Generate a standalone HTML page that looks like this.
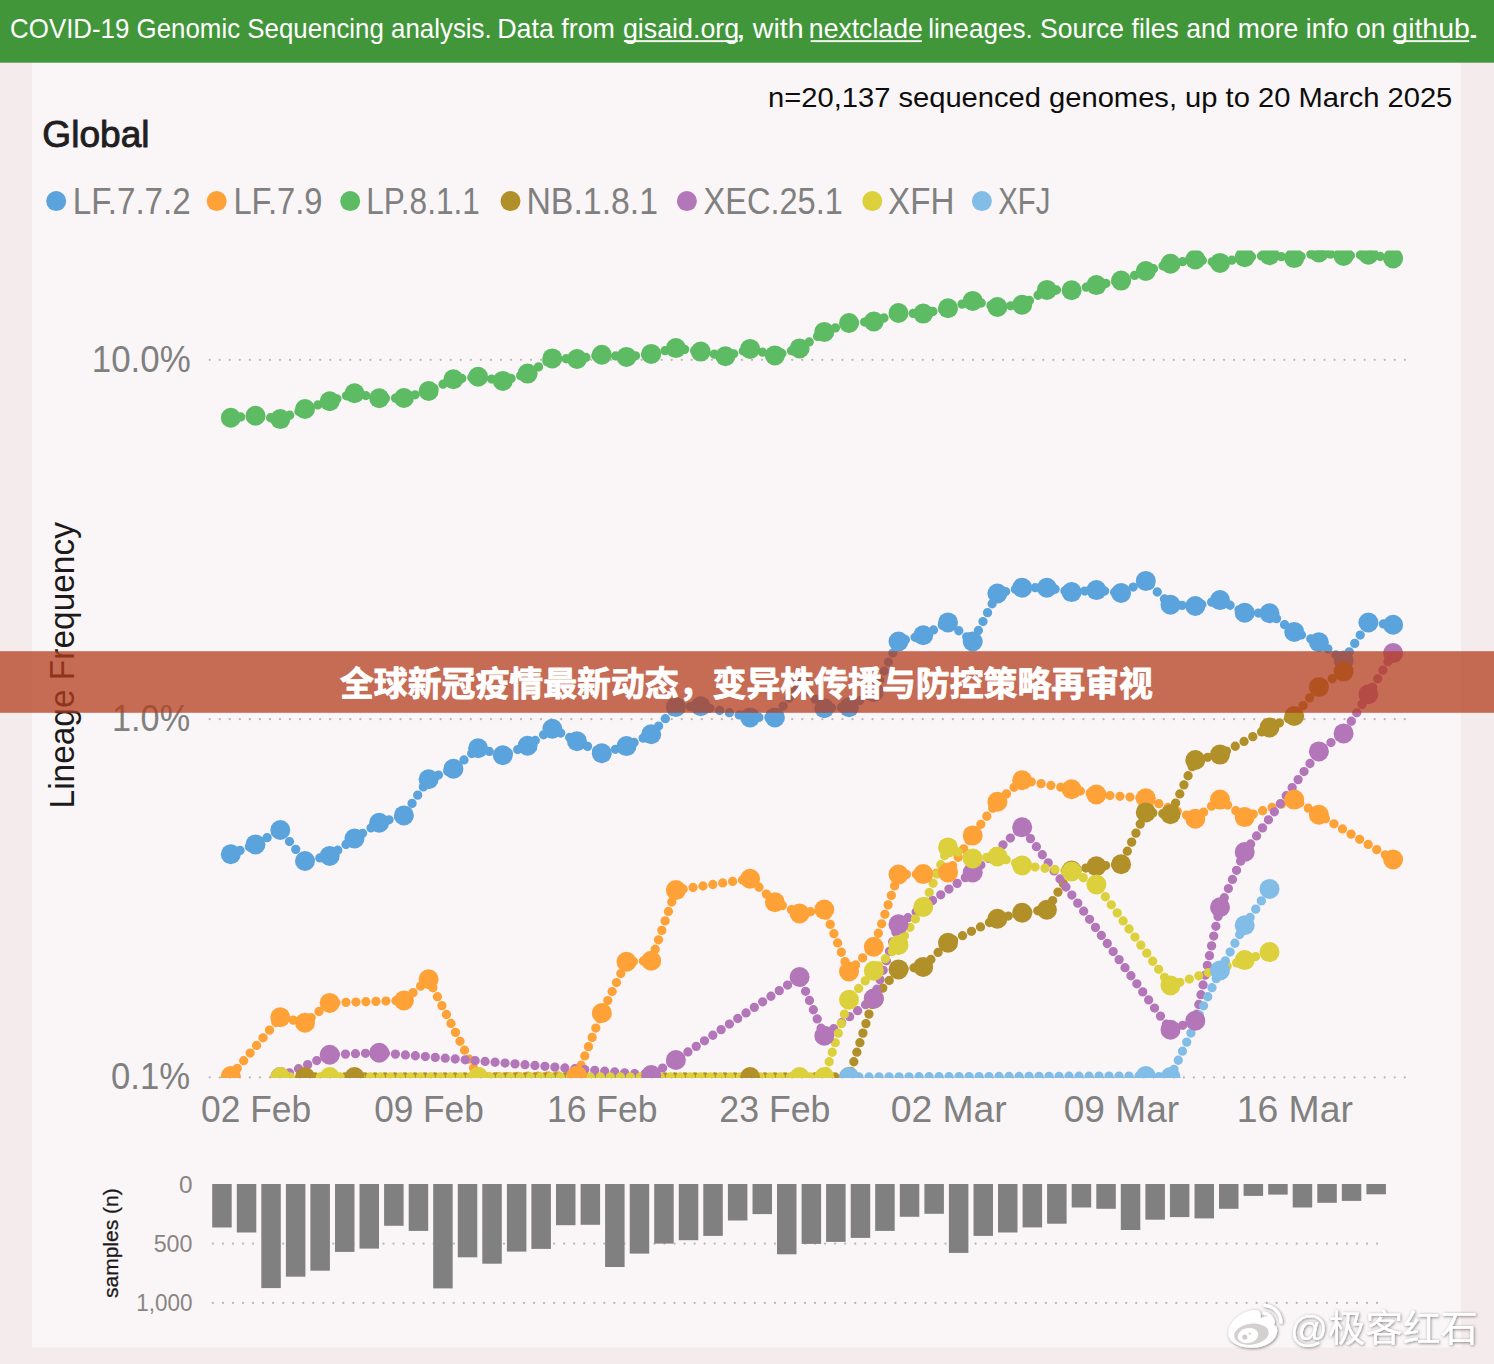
<!DOCTYPE html>
<html lang="en"><head><meta charset="utf-8"><title>COVID-19 Genomic Sequencing analysis</title>
<style>html,body{margin:0;padding:0;background:#f4ebec;}body{width:1494px;height:1364px;overflow:hidden;font-family:"Liberation Sans",sans-serif;}svg{display:block;}text{font-family:"Liberation Sans",sans-serif;}</style></head><body>
<svg width="1494" height="1364" viewBox="0 0 1494 1364">
<defs><clipPath id="plot"><rect x="190" y="250.5" width="1230" height="827.5"/></clipPath>
<filter id="wm" x="-10%" y="-30%" width="120%" height="160%"><feDropShadow dx="0.8" dy="0.8" stdDeviation="1.8" flood-color="#000" flood-opacity="0.5"/></filter>
</defs>
<rect x="32" y="62" width="1429" height="1285.6" fill="#faf6f7"/>
<rect x="0" y="0" width="1494" height="62.7" fill="#419639"/>
<text x="10.09" y="38.0" font-size="28.5" fill="#fff" textLength="481.65" lengthAdjust="spacingAndGlyphs">COVID-19 Genomic Sequencing analysis.</text>
<text x="497.22" y="38.0" font-size="28.5" fill="#fff" textLength="117.74" lengthAdjust="spacingAndGlyphs">Data from</text>
<text x="622.96" y="38.0" font-size="28.5" fill="#fff" textLength="116.22" lengthAdjust="spacingAndGlyphs">gisaid.org</text>
<rect x="623.9" y="40.2" width="113.8" height="1.9" fill="#fff"/>
<text x="735.6" y="38.0" font-size="28.5" fill="#fff" textLength="10.56" lengthAdjust="spacingAndGlyphs">,</text>
<text x="752.8" y="38.0" font-size="28.5" fill="#fff" textLength="50.89" lengthAdjust="spacingAndGlyphs">with</text>
<text x="808.83" y="38.0" font-size="28.5" fill="#fff" textLength="113.92" lengthAdjust="spacingAndGlyphs">nextclade</text>
<rect x="810.7" y="40.2" width="111.1" height="1.9" fill="#fff"/>
<text x="928.27" y="38.0" font-size="28.5" fill="#fff" textLength="104.45" lengthAdjust="spacingAndGlyphs">lineages.</text>
<text x="1039.97" y="38.0" font-size="28.5" fill="#fff" textLength="345.53" lengthAdjust="spacingAndGlyphs">Source files and more info on</text>
<text x="1392.3" y="38.0" font-size="28.5" fill="#fff" textLength="77.55" lengthAdjust="spacingAndGlyphs">github</text>
<rect x="1393.3" y="40.2" width="75.9" height="1.9" fill="#fff"/>
<text x="1466.05" y="38.0" font-size="28.5" fill="#fff" textLength="14.66" lengthAdjust="spacingAndGlyphs">.</text>
<text x="768.06" y="106.9" font-size="28.5" fill="#0d0d0d" textLength="684.25" lengthAdjust="spacingAndGlyphs">n=20,137 sequenced genomes, up to 20 March 2025</text>
<text x="42.39" y="146.9" font-size="36.6" fill="#221e1f" textLength="107.17" lengthAdjust="spacingAndGlyphs" stroke="#221e1f" stroke-width="0.9">Global</text>
<text x="72.7" y="214.4" font-size="36.8" fill="#808080" textLength="118.05" lengthAdjust="spacingAndGlyphs">LF.7.7.2</text>
<text x="233.43" y="214.4" font-size="36.8" fill="#808080" textLength="89.08" lengthAdjust="spacingAndGlyphs">LF.7.9</text>
<text x="366.33" y="214.4" font-size="36.8" fill="#808080" textLength="113.42" lengthAdjust="spacingAndGlyphs">LP.8.1.1</text>
<text x="526.44" y="214.4" font-size="36.8" fill="#808080" textLength="131.65" lengthAdjust="spacingAndGlyphs">NB.1.8.1</text>
<text x="703.52" y="214.4" font-size="36.8" fill="#808080" textLength="139.33" lengthAdjust="spacingAndGlyphs">XEC.25.1</text>
<text x="888.1" y="214.4" font-size="36.8" fill="#808080" textLength="66.25" lengthAdjust="spacingAndGlyphs">XFH</text>
<text x="998.2" y="214.4" font-size="36.8" fill="#808080" textLength="52.13" lengthAdjust="spacingAndGlyphs">XFJ</text>
<text x="91.82" y="371.6" font-size="36.4" fill="#808080" textLength="98.91" lengthAdjust="spacingAndGlyphs">10.0%</text>
<text x="112.08" y="730.7" font-size="36.4" fill="#808080" textLength="78.02" lengthAdjust="spacingAndGlyphs">1.0%</text>
<text x="111.05" y="1089.3" font-size="36.4" fill="#808080" textLength="79.06" lengthAdjust="spacingAndGlyphs">0.1%</text>
<text x="201.03" y="1121.7" font-size="36.4" fill="#808080" textLength="110.13" lengthAdjust="spacingAndGlyphs">02 Feb</text>
<text x="374.13" y="1121.7" font-size="36.4" fill="#808080" textLength="109.62" lengthAdjust="spacingAndGlyphs">09 Feb</text>
<text x="547.08" y="1121.7" font-size="36.4" fill="#808080" textLength="110.28" lengthAdjust="spacingAndGlyphs">16 Feb</text>
<text x="719.34" y="1121.7" font-size="36.4" fill="#808080" textLength="111.13" lengthAdjust="spacingAndGlyphs">23 Feb</text>
<text x="890.68" y="1121.7" font-size="36.4" fill="#808080" textLength="116.1" lengthAdjust="spacingAndGlyphs">02 Mar</text>
<text x="1063.68" y="1121.7" font-size="36.4" fill="#808080" textLength="115.49" lengthAdjust="spacingAndGlyphs">09 Mar</text>
<text x="1236.72" y="1121.7" font-size="36.4" fill="#808080" textLength="116.15" lengthAdjust="spacingAndGlyphs">16 Mar</text>
<text x="178.99" y="1192.6" font-size="24.2" fill="#8a8584" textLength="13.57" lengthAdjust="spacingAndGlyphs">0</text>
<text x="153.64" y="1251.8" font-size="24.2" fill="#8a8584" textLength="38.81" lengthAdjust="spacingAndGlyphs">500</text>
<text x="136.34" y="1310.5" font-size="24.2" fill="#8a8584" textLength="56.25" lengthAdjust="spacingAndGlyphs">1,000</text>
<text transform="translate(73.6,805.6) rotate(-90)" x="-2.87" y="0" font-size="35.0" fill="#1c1a1a" textLength="286.34" lengthAdjust="spacingAndGlyphs">Lineage Frequency</text>
<text transform="translate(117.9,1297.0) rotate(-90)" x="-1.0" y="0" font-size="21.0" fill="#1c1a1a" textLength="109.7" lengthAdjust="spacingAndGlyphs" stroke="#1c1a1a" stroke-width="0.3">samples (n)</text>
<circle cx="56.2" cy="201.1" r="10" fill="#5ba3dc"/>
<circle cx="216.7" cy="201.1" r="10" fill="#fea238"/>
<circle cx="350.2" cy="201.1" r="10" fill="#5dbb63"/>
<circle cx="510.5" cy="201.1" r="10" fill="#b1902a"/>
<circle cx="686.9" cy="201.1" r="10" fill="#b376b9"/>
<circle cx="872.3" cy="201.1" r="10" fill="#dcd03c"/>
<circle cx="981.9" cy="201.1" r="10" fill="#82bde8"/>
<line x1="209.7" y1="359.8" x2="1405.5" y2="359.8" stroke="#bcb7b7" stroke-width="2.3" stroke-linecap="round" stroke-dasharray="0 10.043"/>
<line x1="209.7" y1="719.2" x2="1405.5" y2="719.2" stroke="#bcb7b7" stroke-width="2.3" stroke-linecap="round" stroke-dasharray="0 10.043"/>
<line x1="209.7" y1="1077.4" x2="1405.5" y2="1077.4" stroke="#bcb7b7" stroke-width="2.3" stroke-linecap="round" stroke-dasharray="0 10.043"/>
<g clip-path="url(#plot)">
<g fill="none" stroke-width="9.3" stroke-linecap="round" stroke-linejoin="round" stroke-dasharray="0 10">
<polyline points="230.8,854.2 255.5,844.4 280.3,830.0 305.0,861.0 329.7,855.9 354.5,838.5 379.2,822.7 403.9,815.4 428.6,779.2 453.4,768.8 478.1,748.2 502.8,755.3 527.6,745.7 552.3,728.8 577.0,741.2 601.8,753.3 626.5,746.1 651.2,734.3 675.9,707.0 700.7,706.2 750.1,717.4 774.9,717.4 799.6,683.5 824.3,708.2 849.0,707.2 873.8,692.0 898.5,641.5 923.2,635.3 948.0,622.4 972.7,641.5 997.4,593.5 1022.2,587.7 1046.9,587.7 1071.6,592.1 1096.4,590.1 1121.1,593.0 1145.8,580.9 1170.5,604.8 1195.3,606.0 1220.0,600.1 1244.7,612.7 1269.5,613.3 1294.2,631.9 1318.9,642.2 1343.6,660.5 1368.4,622.5 1393.1,624.8" stroke="#5ba3dc"/>
<polyline points="230.8,1076.0 280.3,1017.3 305.0,1022.7 329.7,1002.9 403.9,1000.5 428.6,979.3 478.1,1077.0 577.0,1075.5 601.8,1013.0 626.5,961.7 651.2,960.7 675.9,890.1 750.1,878.8 774.9,902.2 799.6,913.5 824.3,909.5 849.0,971.5 873.8,946.7 898.5,874.5 923.2,874.1 948.0,872.5 972.7,835.4 997.4,801.8 1022.2,780.2 1071.6,789.2 1096.4,794.5 1145.8,798.3 1195.3,818.7 1220.0,799.6 1244.7,817.1 1294.2,799.6 1318.9,814.7 1393.1,859.5" stroke="#fea238"/>
<polyline points="230.8,417.8 255.5,415.7 280.3,419.1 305.0,409.0 329.7,401.2 354.5,393.2 379.2,398.3 403.9,398.0 428.6,391.0 453.4,379.3 478.1,376.8 502.8,380.9 527.6,373.6 552.3,358.4 577.0,359.0 601.8,354.7 626.5,356.9 651.2,353.9 675.9,348.1 700.7,351.6 725.4,356.3 750.1,348.9 774.9,355.4 799.6,348.4 824.3,331.9 849.0,323.0 873.8,321.5 898.5,313.0 923.2,313.6 948.0,308.3 972.7,300.9 997.4,307.0 1022.2,304.8 1046.9,289.9 1071.6,290.2 1096.4,285.1 1121.1,280.6 1145.8,271.0 1170.5,263.7 1195.3,259.5 1220.0,262.9 1244.7,257.3 1269.5,255.3 1294.2,258.1 1318.9,252.5 1343.6,255.9 1368.4,254.7 1393.1,258.4" stroke="#5dbb63"/>
<polyline points="305.0,1077.0 354.5,1077.0 750.1,1077.0 849.0,1077.0 873.8,998.8 898.5,969.4 923.2,966.9 948.0,942.8 997.4,918.7 1022.2,912.7 1046.9,909.7 1071.6,870.5 1096.4,866.3 1121.1,864.3 1145.8,812.4 1170.5,814.2 1195.3,760.0 1220.0,754.6 1269.5,727.5 1294.2,716.0 1318.9,687.1 1343.6,671.6" stroke="#b1902a"/>
<polyline points="280.3,1077.0 329.7,1054.7 379.2,1052.8 651.2,1075.0 675.9,1060.0 799.6,977.0 824.3,1035.8 873.8,998.5 898.5,924.3 972.7,872.5 1022.2,827.3 1170.5,1029.8 1195.3,1020.7 1220.0,907.3 1244.7,852.0 1318.9,751.4 1343.6,733.4 1368.4,694.3 1393.1,653.1" stroke="#b376b9"/>
<polyline points="280.3,1077.0 329.7,1077.0 478.1,1077.0 799.6,1077.0 824.3,1077.0 849.0,999.7 873.8,970.8 898.5,944.9 923.2,907.0 948.0,847.4 972.7,858.5 997.4,856.5 1022.2,865.5 1071.6,871.5 1096.4,884.5 1170.5,985.5 1244.7,960.1 1269.5,952.1" stroke="#dcd03c"/>
<polyline points="849.0,1077.0 1145.8,1076.0 1170.5,1077.0 1220.0,970.5 1244.7,925.3 1269.5,888.9" stroke="#82bde8"/>
</g>
<g fill="#5ba3dc"><circle cx="230.8" cy="854.2" r="10"/><circle cx="255.5" cy="844.4" r="10"/><circle cx="280.3" cy="830.0" r="10"/><circle cx="305.0" cy="861.0" r="10"/><circle cx="329.7" cy="855.9" r="10"/><circle cx="354.5" cy="838.5" r="10"/><circle cx="379.2" cy="822.7" r="10"/><circle cx="403.9" cy="815.4" r="10"/><circle cx="428.6" cy="779.2" r="10"/><circle cx="453.4" cy="768.8" r="10"/><circle cx="478.1" cy="748.2" r="10"/><circle cx="502.8" cy="755.3" r="10"/><circle cx="527.6" cy="745.7" r="10"/><circle cx="552.3" cy="728.8" r="10"/><circle cx="577.0" cy="741.2" r="10"/><circle cx="601.8" cy="753.3" r="10"/><circle cx="626.5" cy="746.1" r="10"/><circle cx="651.2" cy="734.3" r="10"/><circle cx="675.9" cy="707.0" r="10"/><circle cx="700.7" cy="706.2" r="10"/><circle cx="750.1" cy="717.4" r="10"/><circle cx="774.9" cy="717.4" r="10"/><circle cx="799.6" cy="683.5" r="10"/><circle cx="824.3" cy="708.2" r="10"/><circle cx="849.0" cy="707.2" r="10"/><circle cx="873.8" cy="692.0" r="10"/><circle cx="898.5" cy="641.5" r="10"/><circle cx="923.2" cy="635.3" r="10"/><circle cx="948.0" cy="622.4" r="10"/><circle cx="972.7" cy="641.5" r="10"/><circle cx="997.4" cy="593.5" r="10"/><circle cx="1022.2" cy="587.7" r="10"/><circle cx="1046.9" cy="587.7" r="10"/><circle cx="1071.6" cy="592.1" r="10"/><circle cx="1096.4" cy="590.1" r="10"/><circle cx="1121.1" cy="593.0" r="10"/><circle cx="1145.8" cy="580.9" r="10"/><circle cx="1170.5" cy="604.8" r="10"/><circle cx="1195.3" cy="606.0" r="10"/><circle cx="1220.0" cy="600.1" r="10"/><circle cx="1244.7" cy="612.7" r="10"/><circle cx="1269.5" cy="613.3" r="10"/><circle cx="1294.2" cy="631.9" r="10"/><circle cx="1318.9" cy="642.2" r="10"/><circle cx="1343.6" cy="660.5" r="10"/><circle cx="1368.4" cy="622.5" r="10"/><circle cx="1393.1" cy="624.8" r="10"/></g>
<g fill="#fea238"><circle cx="230.8" cy="1076.0" r="10"/><circle cx="280.3" cy="1017.3" r="10"/><circle cx="305.0" cy="1022.7" r="10"/><circle cx="329.7" cy="1002.9" r="10"/><circle cx="403.9" cy="1000.5" r="10"/><circle cx="428.6" cy="979.3" r="10"/><circle cx="478.1" cy="1077.0" r="10"/><circle cx="577.0" cy="1075.5" r="10"/><circle cx="601.8" cy="1013.0" r="10"/><circle cx="626.5" cy="961.7" r="10"/><circle cx="651.2" cy="960.7" r="10"/><circle cx="675.9" cy="890.1" r="10"/><circle cx="750.1" cy="878.8" r="10"/><circle cx="774.9" cy="902.2" r="10"/><circle cx="799.6" cy="913.5" r="10"/><circle cx="824.3" cy="909.5" r="10"/><circle cx="849.0" cy="971.5" r="10"/><circle cx="873.8" cy="946.7" r="10"/><circle cx="898.5" cy="874.5" r="10"/><circle cx="923.2" cy="874.1" r="10"/><circle cx="948.0" cy="872.5" r="10"/><circle cx="972.7" cy="835.4" r="10"/><circle cx="997.4" cy="801.8" r="10"/><circle cx="1022.2" cy="780.2" r="10"/><circle cx="1071.6" cy="789.2" r="10"/><circle cx="1096.4" cy="794.5" r="10"/><circle cx="1145.8" cy="798.3" r="10"/><circle cx="1195.3" cy="818.7" r="10"/><circle cx="1220.0" cy="799.6" r="10"/><circle cx="1244.7" cy="817.1" r="10"/><circle cx="1294.2" cy="799.6" r="10"/><circle cx="1318.9" cy="814.7" r="10"/><circle cx="1393.1" cy="859.5" r="10"/></g>
<g fill="#5dbb63"><circle cx="230.8" cy="417.8" r="10"/><circle cx="255.5" cy="415.7" r="10"/><circle cx="280.3" cy="419.1" r="10"/><circle cx="305.0" cy="409.0" r="10"/><circle cx="329.7" cy="401.2" r="10"/><circle cx="354.5" cy="393.2" r="10"/><circle cx="379.2" cy="398.3" r="10"/><circle cx="403.9" cy="398.0" r="10"/><circle cx="428.6" cy="391.0" r="10"/><circle cx="453.4" cy="379.3" r="10"/><circle cx="478.1" cy="376.8" r="10"/><circle cx="502.8" cy="380.9" r="10"/><circle cx="527.6" cy="373.6" r="10"/><circle cx="552.3" cy="358.4" r="10"/><circle cx="577.0" cy="359.0" r="10"/><circle cx="601.8" cy="354.7" r="10"/><circle cx="626.5" cy="356.9" r="10"/><circle cx="651.2" cy="353.9" r="10"/><circle cx="675.9" cy="348.1" r="10"/><circle cx="700.7" cy="351.6" r="10"/><circle cx="725.4" cy="356.3" r="10"/><circle cx="750.1" cy="348.9" r="10"/><circle cx="774.9" cy="355.4" r="10"/><circle cx="799.6" cy="348.4" r="10"/><circle cx="824.3" cy="331.9" r="10"/><circle cx="849.0" cy="323.0" r="10"/><circle cx="873.8" cy="321.5" r="10"/><circle cx="898.5" cy="313.0" r="10"/><circle cx="923.2" cy="313.6" r="10"/><circle cx="948.0" cy="308.3" r="10"/><circle cx="972.7" cy="300.9" r="10"/><circle cx="997.4" cy="307.0" r="10"/><circle cx="1022.2" cy="304.8" r="10"/><circle cx="1046.9" cy="289.9" r="10"/><circle cx="1071.6" cy="290.2" r="10"/><circle cx="1096.4" cy="285.1" r="10"/><circle cx="1121.1" cy="280.6" r="10"/><circle cx="1145.8" cy="271.0" r="10"/><circle cx="1170.5" cy="263.7" r="10"/><circle cx="1195.3" cy="259.5" r="10"/><circle cx="1220.0" cy="262.9" r="10"/><circle cx="1244.7" cy="257.3" r="10"/><circle cx="1269.5" cy="255.3" r="10"/><circle cx="1294.2" cy="258.1" r="10"/><circle cx="1318.9" cy="252.5" r="10"/><circle cx="1343.6" cy="255.9" r="10"/><circle cx="1368.4" cy="254.7" r="10"/><circle cx="1393.1" cy="258.4" r="10"/></g>
<g fill="#b1902a"><circle cx="305.0" cy="1077.0" r="10"/><circle cx="354.5" cy="1077.0" r="10"/><circle cx="750.1" cy="1077.0" r="10"/><circle cx="849.0" cy="1077.0" r="10"/><circle cx="873.8" cy="998.8" r="10"/><circle cx="898.5" cy="969.4" r="10"/><circle cx="923.2" cy="966.9" r="10"/><circle cx="948.0" cy="942.8" r="10"/><circle cx="997.4" cy="918.7" r="10"/><circle cx="1022.2" cy="912.7" r="10"/><circle cx="1046.9" cy="909.7" r="10"/><circle cx="1071.6" cy="870.5" r="10"/><circle cx="1096.4" cy="866.3" r="10"/><circle cx="1121.1" cy="864.3" r="10"/><circle cx="1145.8" cy="812.4" r="10"/><circle cx="1170.5" cy="814.2" r="10"/><circle cx="1195.3" cy="760.0" r="10"/><circle cx="1220.0" cy="754.6" r="10"/><circle cx="1269.5" cy="727.5" r="10"/><circle cx="1294.2" cy="716.0" r="10"/><circle cx="1318.9" cy="687.1" r="10"/><circle cx="1343.6" cy="671.6" r="10"/></g>
<g fill="#b376b9"><circle cx="280.3" cy="1077.0" r="10"/><circle cx="329.7" cy="1054.7" r="10"/><circle cx="379.2" cy="1052.8" r="10"/><circle cx="651.2" cy="1075.0" r="10"/><circle cx="675.9" cy="1060.0" r="10"/><circle cx="799.6" cy="977.0" r="10"/><circle cx="824.3" cy="1035.8" r="10"/><circle cx="873.8" cy="998.5" r="10"/><circle cx="898.5" cy="924.3" r="10"/><circle cx="972.7" cy="872.5" r="10"/><circle cx="1022.2" cy="827.3" r="10"/><circle cx="1170.5" cy="1029.8" r="10"/><circle cx="1195.3" cy="1020.7" r="10"/><circle cx="1220.0" cy="907.3" r="10"/><circle cx="1244.7" cy="852.0" r="10"/><circle cx="1318.9" cy="751.4" r="10"/><circle cx="1343.6" cy="733.4" r="10"/><circle cx="1368.4" cy="694.3" r="10"/><circle cx="1393.1" cy="653.1" r="10"/></g>
<g fill="#dcd03c"><circle cx="280.3" cy="1077.0" r="10"/><circle cx="329.7" cy="1077.0" r="10"/><circle cx="478.1" cy="1077.0" r="10"/><circle cx="799.6" cy="1077.0" r="10"/><circle cx="824.3" cy="1077.0" r="10"/><circle cx="849.0" cy="999.7" r="10"/><circle cx="873.8" cy="970.8" r="10"/><circle cx="898.5" cy="944.9" r="10"/><circle cx="923.2" cy="907.0" r="10"/><circle cx="948.0" cy="847.4" r="10"/><circle cx="972.7" cy="858.5" r="10"/><circle cx="997.4" cy="856.5" r="10"/><circle cx="1022.2" cy="865.5" r="10"/><circle cx="1071.6" cy="871.5" r="10"/><circle cx="1096.4" cy="884.5" r="10"/><circle cx="1170.5" cy="985.5" r="10"/><circle cx="1244.7" cy="960.1" r="10"/><circle cx="1269.5" cy="952.1" r="10"/></g>
<g fill="#82bde8"><circle cx="849.0" cy="1077.0" r="10"/><circle cx="1145.8" cy="1076.0" r="10"/><circle cx="1170.5" cy="1077.0" r="10"/><circle cx="1220.0" cy="970.5" r="10"/><circle cx="1244.7" cy="925.3" r="10"/><circle cx="1269.5" cy="888.9" r="10"/></g>
</g>
<line x1="212.9" y1="1243.7" x2="1378" y2="1243.7" stroke="#bcb7b7" stroke-width="2.3" stroke-linecap="round" stroke-dasharray="0 10.036"/>
<line x1="212.9" y1="1302.9" x2="1378" y2="1302.9" stroke="#bcb7b7" stroke-width="2.3" stroke-linecap="round" stroke-dasharray="0 10.036"/>
<g fill="#808080">
<rect x="212.2" y="1184" width="19.5" height="43.5"/>
<rect x="236.8" y="1184" width="19.5" height="48.5"/>
<rect x="261.3" y="1184" width="19.5" height="104.1"/>
<rect x="285.9" y="1184" width="19.5" height="92.7"/>
<rect x="310.4" y="1184" width="19.5" height="86.7"/>
<rect x="335.0" y="1184" width="19.5" height="67.9"/>
<rect x="359.5" y="1184" width="19.5" height="64.6"/>
<rect x="384.1" y="1184" width="19.5" height="41.8"/>
<rect x="408.7" y="1184" width="19.5" height="46.9"/>
<rect x="433.2" y="1184" width="19.5" height="104.4"/>
<rect x="457.8" y="1184" width="19.5" height="73.3"/>
<rect x="482.3" y="1184" width="19.5" height="79.7"/>
<rect x="506.9" y="1184" width="19.5" height="67.6"/>
<rect x="531.4" y="1184" width="19.5" height="64.9"/>
<rect x="556.0" y="1184" width="19.5" height="41.2"/>
<rect x="580.6" y="1184" width="19.5" height="40.8"/>
<rect x="605.1" y="1184" width="19.5" height="83.0"/>
<rect x="629.7" y="1184" width="19.5" height="69.6"/>
<rect x="654.2" y="1184" width="19.5" height="59.6"/>
<rect x="678.8" y="1184" width="19.5" height="56.2"/>
<rect x="703.3" y="1184" width="19.5" height="51.9"/>
<rect x="727.9" y="1184" width="19.5" height="36.5"/>
<rect x="752.5" y="1184" width="19.5" height="30.1"/>
<rect x="777.0" y="1184" width="19.5" height="70.3"/>
<rect x="801.6" y="1184" width="19.5" height="59.9"/>
<rect x="826.1" y="1184" width="19.5" height="57.9"/>
<rect x="850.7" y="1184" width="19.5" height="53.9"/>
<rect x="875.2" y="1184" width="19.5" height="46.9"/>
<rect x="899.8" y="1184" width="19.5" height="32.8"/>
<rect x="924.4" y="1184" width="19.5" height="29.8"/>
<rect x="948.9" y="1184" width="19.5" height="68.9"/>
<rect x="973.5" y="1184" width="19.5" height="51.9"/>
<rect x="998.0" y="1184" width="19.5" height="48.5"/>
<rect x="1022.6" y="1184" width="19.5" height="43.4"/>
<rect x="1047.1" y="1184" width="19.5" height="39.7"/>
<rect x="1071.7" y="1184" width="19.5" height="23.5"/>
<rect x="1096.3" y="1184" width="19.5" height="24.8"/>
<rect x="1120.8" y="1184" width="19.5" height="46.0"/>
<rect x="1145.4" y="1184" width="19.5" height="35.7"/>
<rect x="1169.9" y="1184" width="19.5" height="33.1"/>
<rect x="1194.5" y="1184" width="19.5" height="34.4"/>
<rect x="1219.0" y="1184" width="19.5" height="24.8"/>
<rect x="1243.6" y="1184" width="19.5" height="11.9"/>
<rect x="1268.2" y="1184" width="19.5" height="10.6"/>
<rect x="1292.7" y="1184" width="19.5" height="23.5"/>
<rect x="1317.3" y="1184" width="19.5" height="18.8"/>
<rect x="1341.8" y="1184" width="19.5" height="16.9"/>
<rect x="1366.4" y="1184" width="19.5" height="10.3"/>
</g>
<rect x="0" y="651.2" width="1494" height="61.6" fill="rgba(180,61,31,0.75)"/>
<text x="340" y="695.5" font-size="34" font-weight="bold" fill="#fff" stroke="#fff" stroke-width="0.8" stroke-linejoin="round" textLength="813" lengthAdjust="spacingAndGlyphs" style="font-family:'Liberation Sans','Noto Sans CJK SC',sans-serif;">全球新冠疫情最新动态，变异株传播与防控策略再审视</text>
<g filter="url(#wm)" fill="#fff">
<text x="1290" y="1342" font-size="37" fill="#fff" textLength="188" lengthAdjust="spacingAndGlyphs" style="font-family:'Liberation Sans','Noto Sans CJK SC',sans-serif;">@极客红石</text>
<g transform="translate(1220,1290)"><path d="M8.300 43.500C8.300 35.500 14.500 27.800 23 23.200c6-3.200 13.200-4.600 16.200-1.800 1.800 1.700 2 4.300 1.200 7 4.300-2.200 9.300-3.100 12.200-0.700 2.200 1.900 2.300 4.700 1.400 7.400 2.400 1.200 3.600 3.300 3.200 6.500C56.300 50.800 46 57.800 32.500 57.800 19 57.800 8.300 52 8.300 43.500z"/><ellipse cx="31.400" cy="44.200" rx="17.400" ry="10.500" fill="#d4d0d0" transform="rotate(-8 31.400 44.200)"/><ellipse cx="28" cy="45.600" rx="10.400" ry="7.400" fill="#fff" transform="rotate(-12 28 45.600)"/><circle cx="24.800" cy="47" r="2.600" fill="#d0cccc"/><circle cx="29.800" cy="43.600" r="1.200" fill="#d4d0d0"/><path d="M44.300 23.300a9.300 9.300 0 0 1 8.700 9.400" fill="none" stroke="#fff" stroke-width="3.200" stroke-linecap="round"/><path d="M44.800 15.400a17.300 17.300 0 0 1 16.200 16.800" fill="none" stroke="#fff" stroke-width="3.300" stroke-linecap="round"/></g>

</g>
</svg></body></html>
